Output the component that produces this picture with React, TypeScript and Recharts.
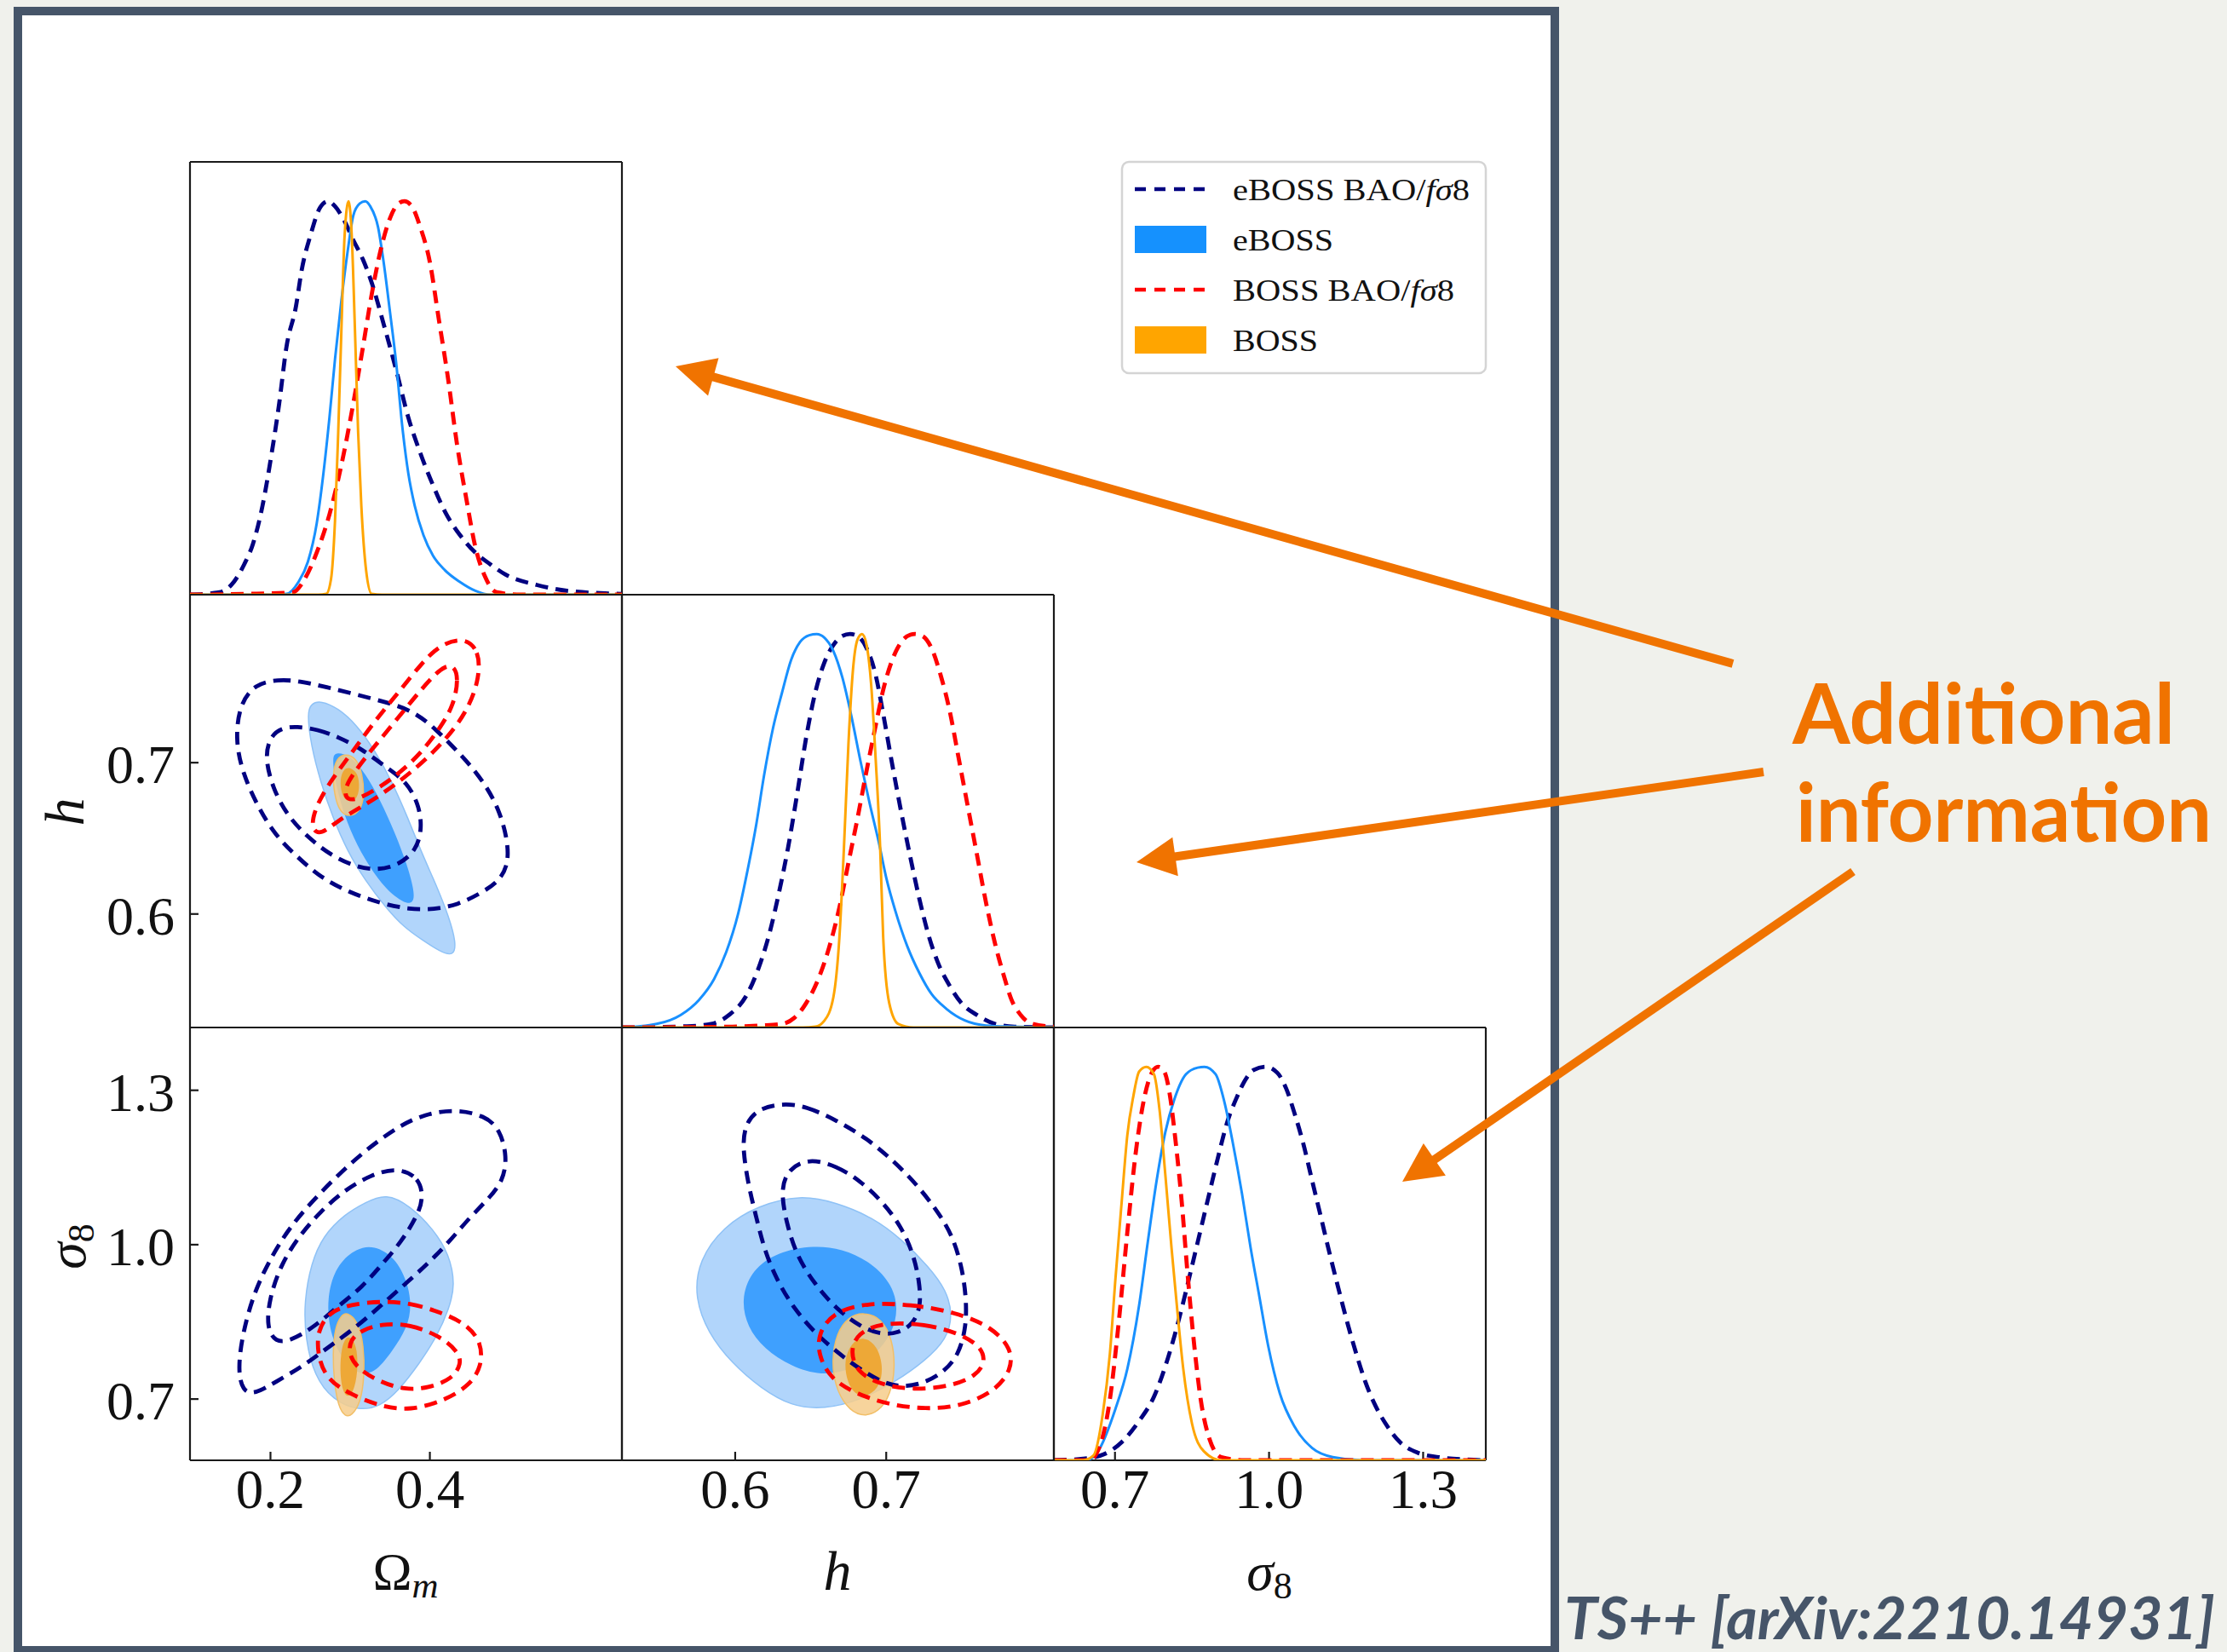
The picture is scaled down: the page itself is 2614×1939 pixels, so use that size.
import React from 'react';
import { ScatterChart, Scatter, XAxis, YAxis } from 'recharts';

const SERIF = '"Liberation Serif", "DejaVu Serif", serif';
const SANS = 'Lato, "Open Sans", sans-serif';
const NAVY = '#000080';
const RED = '#ff0000';
const BLUE = '#1890ff';
const ORANGE = '#ffa500';
const BLUE_OUT = '#b1d5fb';
const BLUE_IN = '#3fa0fe';
const SLATE = '#465569';
const ACCENT = '#f07300';

// panel grid (pixels)
const COL_X = [223, 730, 1237];
const ROW_Y = [190, 698, 1206];
const PW = 507;
const PH = 508;

// axis ranges and ticks
const omDomain = [0.099, 0.641];
const hDomain = [0.525, 0.811];
const s8Domain = [0.581, 1.422];
const pdfDomain = [0, 1.1];
const omTicks = [0.2, 0.4];
const hTicks = [0.6, 0.7];
const s8Ticks = [0.7, 1.0, 1.3];
const pdfTicks = [0.5];

// 1D marginals: [value, normalised density]
const omEbossBao1D = [[0.099,0],[0.136,0.006],[0.151,0.025],[0.167,0.077],[0.178,0.129],[0.19,0.226],[0.201,0.353],[0.211,0.487],[0.22,0.629],[0.232,0.733],[0.239,0.823],[0.251,0.919],[0.262,0.983],[0.272,1],[0.281,0.987],[0.293,0.949],[0.304,0.901],[0.316,0.852],[0.327,0.793],[0.342,0.688],[0.358,0.569],[0.373,0.45],[0.388,0.36],[0.404,0.278],[0.419,0.211],[0.438,0.151],[0.457,0.107],[0.476,0.077],[0.495,0.051],[0.534,0.025],[0.572,0.01],[0.641,0.002]];
const omEboss1D = [[0.099,0],[0.2,0],[0.22,0.002],[0.235,0.032],[0.247,0.084],[0.258,0.181],[0.266,0.301],[0.274,0.45],[0.281,0.599],[0.289,0.748],[0.297,0.875],[0.304,0.964],[0.312,0.994],[0.319,1],[0.325,0.988],[0.335,0.934],[0.342,0.845],[0.35,0.718],[0.358,0.584],[0.365,0.435],[0.373,0.308],[0.381,0.226],[0.392,0.151],[0.404,0.099],[0.419,0.062],[0.438,0.032],[0.457,0.01],[0.476,0],[0.641,0]];
const omBossBao1D = [[0.099,0],[0.17,0.002],[0.228,0.006],[0.243,0.04],[0.258,0.107],[0.274,0.204],[0.289,0.33],[0.304,0.487],[0.316,0.629],[0.327,0.763],[0.339,0.882],[0.35,0.957],[0.36,0.993],[0.368,1],[0.377,0.988],[0.388,0.934],[0.4,0.845],[0.411,0.703],[0.423,0.547],[0.434,0.383],[0.446,0.241],[0.457,0.122],[0.469,0.047],[0.484,0.006],[0.514,0],[0.641,0]];
const omBoss1D = [[0.099,0],[0.26,0],[0.27,0.002],[0.276,0.04],[0.281,0.189],[0.285,0.412],[0.289,0.673],[0.293,0.912],[0.298,1],[0.302,0.912],[0.306,0.673],[0.31,0.412],[0.314,0.226],[0.32,0.062],[0.327,0.002],[0.34,0],[0.641,0]];

const hEbossBao1D = [[0.525,0],[0.568,0.003],[0.584,0.009],[0.596,0.032],[0.608,0.085],[0.615,0.146],[0.623,0.244],[0.629,0.343],[0.635,0.457],[0.641,0.593],[0.647,0.737],[0.653,0.851],[0.659,0.927],[0.665,0.972],[0.671,0.995],[0.676,1],[0.681,0.995],[0.687,0.964],[0.693,0.896],[0.698,0.797],[0.704,0.668],[0.71,0.546],[0.716,0.432],[0.722,0.326],[0.728,0.235],[0.734,0.167],[0.742,0.106],[0.75,0.061],[0.76,0.032],[0.772,0.009],[0.785,0.002],[0.811,0]];
const hEboss1D = [[0.525,0],[0.548,0.009],[0.564,0.032],[0.576,0.07],[0.586,0.123],[0.594,0.191],[0.602,0.29],[0.608,0.396],[0.614,0.517],[0.619,0.638],[0.625,0.76],[0.631,0.851],[0.637,0.934],[0.643,0.98],[0.649,0.997],[0.654,1],[0.659,0.991],[0.665,0.957],[0.671,0.889],[0.677,0.79],[0.683,0.676],[0.689,0.57],[0.695,0.472],[0.7,0.381],[0.706,0.297],[0.714,0.206],[0.722,0.138],[0.73,0.085],[0.74,0.047],[0.752,0.018],[0.766,0.005],[0.785,0.002],[0.811,0]];
const hBossBao1D = [[0.525,0],[0.598,0.002],[0.617,0.005],[0.631,0.009],[0.639,0.024],[0.647,0.062],[0.655,0.123],[0.663,0.214],[0.669,0.305],[0.675,0.419],[0.681,0.532],[0.687,0.653],[0.693,0.767],[0.698,0.858],[0.704,0.934],[0.71,0.98],[0.716,0.998],[0.719,1],[0.724,0.995],[0.73,0.964],[0.736,0.896],[0.742,0.805],[0.748,0.684],[0.754,0.562],[0.76,0.441],[0.766,0.319],[0.772,0.214],[0.778,0.13],[0.783,0.07],[0.789,0.032],[0.797,0.009],[0.811,0.002]];
const hBoss1D = [[0.525,0],[0.645,0],[0.653,0.002],[0.659,0.017],[0.665,0.077],[0.669,0.229],[0.672,0.456],[0.675,0.722],[0.678,0.91],[0.681,0.986],[0.684,1],[0.687,0.972],[0.69,0.873],[0.693,0.683],[0.696,0.456],[0.698,0.229],[0.702,0.062],[0.708,0.009],[0.718,0],[0.811,0]];

const s8EbossBao1D = [[0.581,0],[0.638,0.004],[0.678,0.015],[0.713,0.046],[0.747,0.1],[0.776,0.162],[0.798,0.239],[0.816,0.317],[0.833,0.402],[0.85,0.494],[0.867,0.587],[0.884,0.68],[0.901,0.772],[0.918,0.857],[0.936,0.919],[0.953,0.965],[0.97,0.992],[0.993,1],[1.016,0.985],[1.033,0.946],[1.05,0.88],[1.067,0.803],[1.084,0.71],[1.101,0.618],[1.118,0.525],[1.136,0.432],[1.153,0.347],[1.17,0.27],[1.187,0.201],[1.204,0.147],[1.227,0.093],[1.255,0.046],[1.29,0.019],[1.33,0.008],[1.381,0.002],[1.422,0]];
const s8Eboss1D = [[0.581,0],[0.644,0],[0.667,0.023],[0.701,0.131],[0.724,0.232],[0.747,0.394],[0.764,0.556],[0.781,0.71],[0.798,0.834],[0.816,0.919],[0.838,0.981],[0.861,0.998],[0.874,1],[0.896,0.981],[0.913,0.911],[0.93,0.803],[0.947,0.68],[0.964,0.541],[0.981,0.417],[0.998,0.293],[1.021,0.17],[1.05,0.085],[1.084,0.031],[1.124,0.008],[1.181,0],[1.422,0]];
const s8BossBao1D = [[0.581,0],[0.65,0],[0.673,0.046],[0.69,0.154],[0.707,0.347],[0.724,0.579],[0.741,0.788],[0.758,0.927],[0.773,0.988],[0.784,1],[0.796,0.988],[0.807,0.927],[0.818,0.811],[0.83,0.656],[0.841,0.479],[0.853,0.309],[0.867,0.154],[0.884,0.054],[0.907,0.008],[0.953,0],[1.422,0]];
const s8Boss1D = [[0.581,0],[0.638,0],[0.658,0.012],[0.676,0.116],[0.69,0.27],[0.701,0.463],[0.713,0.656],[0.724,0.826],[0.736,0.927],[0.747,0.988],[0.761,1],[0.776,0.981],[0.787,0.888],[0.798,0.726],[0.81,0.541],[0.821,0.386],[0.833,0.232],[0.85,0.093],[0.873,0.023],[0.907,0],[1.422,0]];

// 2D contours (Omega_m, h)
const omHNavyOuter = [[0.18,0.752],[0.21,0.755],[0.236,0.754],[0.27,0.75],[0.308,0.745],[0.345,0.74],[0.375,0.735],[0.402,0.725],[0.428,0.711],[0.45,0.699],[0.473,0.683],[0.488,0.667],[0.497,0.65],[0.499,0.634],[0.488,0.622],[0.465,0.614],[0.435,0.606],[0.405,0.603],[0.375,0.603],[0.338,0.607],[0.3,0.614],[0.263,0.624],[0.233,0.638],[0.206,0.652],[0.184,0.671],[0.165,0.693],[0.156,0.715],[0.161,0.738]];
const omHNavyInner = [[0.233,0.724],[0.259,0.722],[0.285,0.717],[0.315,0.709],[0.345,0.697],[0.372,0.687],[0.387,0.671],[0.39,0.656],[0.383,0.642],[0.36,0.632],[0.334,0.629],[0.308,0.631],[0.278,0.638],[0.248,0.65],[0.221,0.665],[0.203,0.683],[0.193,0.703],[0.199,0.717],[0.214,0.723]];
const omHRedOuter = [[0.443,0.783],[0.462,0.774],[0.462,0.756],[0.45,0.738],[0.432,0.723],[0.405,0.707],[0.375,0.693],[0.345,0.681],[0.315,0.671],[0.285,0.662],[0.263,0.652],[0.251,0.656],[0.255,0.669],[0.274,0.687],[0.3,0.705],[0.33,0.727],[0.36,0.746],[0.39,0.766],[0.413,0.778]];
const omHRedInner = [[0.43,0.764],[0.436,0.756],[0.43,0.738],[0.413,0.723],[0.39,0.707],[0.364,0.694],[0.338,0.684],[0.311,0.676],[0.296,0.675],[0.292,0.682],[0.304,0.693],[0.326,0.708],[0.353,0.725],[0.379,0.742],[0.405,0.758],[0.42,0.764]];
const omHBlueOuter = [[0.263,0.741],[0.285,0.736],[0.308,0.725],[0.33,0.709],[0.353,0.687],[0.372,0.664],[0.39,0.64],[0.409,0.618],[0.424,0.598],[0.433,0.581],[0.43,0.572],[0.413,0.575],[0.39,0.583],[0.368,0.591],[0.345,0.604],[0.319,0.622],[0.296,0.642],[0.278,0.664],[0.263,0.687],[0.251,0.711],[0.246,0.733],[0.251,0.739]];
const omHBlueInner = [[0.281,0.707],[0.3,0.705],[0.319,0.693],[0.338,0.675],[0.356,0.654],[0.372,0.632],[0.381,0.614],[0.379,0.607],[0.368,0.607],[0.345,0.616],[0.323,0.632],[0.304,0.65],[0.289,0.671],[0.28,0.691],[0.278,0.703]];
const omHOrangeOuter = [[0.294,0.706],[0.308,0.703],[0.315,0.693],[0.318,0.679],[0.313,0.668],[0.3,0.664],[0.287,0.667],[0.28,0.679],[0.278,0.693],[0.283,0.703]];
const omHOrangeInner = [[0.3,0.697],[0.31,0.693],[0.312,0.683],[0.308,0.675],[0.296,0.674],[0.289,0.679],[0.287,0.689],[0.292,0.696]];

// 2D contours (Omega_m, sigma_8)
const omS8NavyOuter = [[0.432,1.263],[0.469,1.251],[0.488,1.224],[0.497,1.171],[0.492,1.124],[0.473,1.088],[0.45,1.053],[0.424,1.005],[0.398,0.964],[0.368,0.922],[0.338,0.881],[0.308,0.84],[0.27,0.798],[0.24,0.763],[0.206,0.733],[0.18,0.709],[0.165,0.715],[0.159,0.757],[0.165,0.828],[0.18,0.911],[0.203,0.982],[0.225,1.035],[0.251,1.082],[0.285,1.136],[0.319,1.183],[0.36,1.23],[0.394,1.254]];
const omS8NavyInner = [[0.36,1.15],[0.387,1.13],[0.392,1.088],[0.383,1.053],[0.364,1.005],[0.341,0.964],[0.315,0.917],[0.285,0.881],[0.255,0.84],[0.225,0.813],[0.206,0.81],[0.195,0.84],[0.199,0.899],[0.214,0.964],[0.236,1.017],[0.263,1.065],[0.293,1.106],[0.326,1.136]];
const omS8BlueOuter = [[0.345,1.1],[0.375,1.076],[0.405,1.029],[0.424,0.982],[0.432,0.922],[0.424,0.875],[0.409,0.822],[0.387,0.769],[0.36,0.715],[0.338,0.686],[0.311,0.677],[0.278,0.698],[0.255,0.745],[0.244,0.816],[0.242,0.887],[0.251,0.964],[0.266,1.017],[0.293,1.059],[0.319,1.082]];
const omS8BlueInner = [[0.33,0.999],[0.356,0.976],[0.372,0.928],[0.377,0.881],[0.372,0.84],[0.353,0.793],[0.33,0.748],[0.308,0.748],[0.285,0.787],[0.272,0.846],[0.272,0.911],[0.285,0.964],[0.308,0.993]];
const omS8RedOuter = [[0.338,0.89],[0.375,0.887],[0.413,0.869],[0.446,0.846],[0.465,0.81],[0.465,0.763],[0.45,0.727],[0.42,0.698],[0.375,0.677],[0.338,0.686],[0.3,0.709],[0.27,0.739],[0.259,0.786],[0.259,0.834],[0.274,0.869],[0.3,0.884]];
const omS8RedInner = [[0.338,0.846],[0.375,0.846],[0.413,0.822],[0.435,0.793],[0.44,0.769],[0.428,0.739],[0.398,0.721],[0.368,0.718],[0.338,0.733],[0.311,0.757],[0.298,0.786],[0.3,0.816],[0.315,0.834]];
const omS8OrangeOuter = [[0.296,0.869],[0.31,0.851],[0.317,0.804],[0.318,0.745],[0.313,0.692],[0.302,0.668],[0.294,0.665],[0.285,0.686],[0.28,0.733],[0.278,0.786],[0.281,0.84],[0.289,0.863]];
const omS8OrangeInner = [[0.3,0.822],[0.308,0.804],[0.31,0.763],[0.306,0.721],[0.298,0.701],[0.29,0.715],[0.287,0.757],[0.289,0.798],[0.294,0.819]];

// 2D contours (h, sigma_8)
const hS8NavyOuter = [[0.631,1.275],[0.647,1.269],[0.667,1.242],[0.687,1.207],[0.704,1.165],[0.72,1.118],[0.734,1.065],[0.744,1.017],[0.75,0.958],[0.753,0.899],[0.753,0.84],[0.748,0.786],[0.738,0.751],[0.722,0.727],[0.708,0.724],[0.697,0.733],[0.683,0.757],[0.667,0.792],[0.653,0.828],[0.639,0.875],[0.627,0.934],[0.619,0.993],[0.614,1.053],[0.609,1.112],[0.605,1.183],[0.606,1.23],[0.614,1.263]];
const hS8NavyInner = [[0.649,1.168],[0.667,1.153],[0.683,1.124],[0.698,1.082],[0.71,1.035],[0.718,0.982],[0.722,0.928],[0.723,0.881],[0.718,0.846],[0.708,0.828],[0.697,0.825],[0.683,0.84],[0.667,0.875],[0.653,0.922],[0.641,0.976],[0.634,1.041],[0.63,1.106],[0.635,1.147]];
const hS8BlueOuter = [[0.643,1.097],[0.667,1.082],[0.691,1.053],[0.71,1.011],[0.728,0.958],[0.74,0.911],[0.744,0.863],[0.74,0.816],[0.726,0.775],[0.706,0.733],[0.683,0.698],[0.659,0.68],[0.637,0.686],[0.617,0.721],[0.598,0.769],[0.582,0.828],[0.573,0.899],[0.576,0.97],[0.592,1.035],[0.615,1.076]];
const hS8BlueInner = [[0.649,0.999],[0.671,0.993],[0.691,0.964],[0.704,0.922],[0.708,0.875],[0.704,0.828],[0.693,0.786],[0.677,0.757],[0.657,0.745],[0.637,0.763],[0.619,0.798],[0.608,0.84],[0.604,0.893],[0.61,0.946],[0.625,0.982]];
const hS8RedOuter = [[0.687,0.887],[0.716,0.884],[0.746,0.869],[0.77,0.84],[0.783,0.798],[0.783,0.757],[0.772,0.715],[0.75,0.686],[0.726,0.68],[0.702,0.689],[0.681,0.709],[0.663,0.739],[0.655,0.786],[0.655,0.828],[0.665,0.869]];
const hS8RedInner = [[0.697,0.849],[0.726,0.846],[0.748,0.828],[0.762,0.804],[0.766,0.775],[0.76,0.745],[0.742,0.724],[0.718,0.718],[0.697,0.727],[0.681,0.751],[0.676,0.792],[0.681,0.828]];
const hS8OrangeOuter = [[0.685,0.869],[0.697,0.857],[0.704,0.816],[0.706,0.763],[0.703,0.709],[0.695,0.674],[0.683,0.665],[0.673,0.686],[0.666,0.727],[0.664,0.775],[0.667,0.828],[0.675,0.86]];
const hS8OrangeInner = [[0.685,0.822],[0.694,0.804],[0.698,0.763],[0.696,0.727],[0.689,0.706],[0.68,0.706],[0.674,0.733],[0.672,0.775],[0.677,0.81]];

const legendItems = [
  { label: 'eBOSS BAO/', tail: 'fσ', end: '8', color: NAVY, kind: 'dash', width: 278 },
  { label: 'eBOSS', tail: '', end: '', color: '#1591fe', kind: 'box', width: 118 },
  { label: 'BOSS BAO/', tail: 'fσ', end: '8', color: RED, kind: 'dash', width: 260 },
  { label: 'BOSS', tail: '', end: '', color: ORANGE, kind: 'box', width: 100 },
];

const pts = (arr: number[][]) => arr.map(([x, y]) => ({ x, y }));
const NoDot = () => <g />;
const DASH = '15 9';
const DASH_W = 4.8;

const fillShape = (key: string, data: number[][], fill: string, stroke: string, opacity = 1) => (
  <Scatter key={key} xAxisId="b" yAxisId="l" data={pts(data)} shape={NoDot} isAnimationActive={false}
    line={{ fill, fillOpacity: opacity, stroke, strokeWidth: 1.5 }} lineJointType="basisClosed" />
);

const dashShape = (key: string, data: number[][], stroke: string) => (
  <Scatter key={key} xAxisId="t" yAxisId="r" data={pts(data)} shape={NoDot} isAnimationActive={false}
    line={{ fill: 'none', stroke, strokeWidth: DASH_W, strokeDasharray: DASH }} lineJointType="basisClosed" />
);

const curve = (key: string, data: number[][], stroke: string, dashed: boolean, top: boolean) => (
  <Scatter key={key} xAxisId={top ? 't' : 'b'} yAxisId={top ? 'r' : 'l'} data={pts(data)} shape={NoDot}
    isAnimationActive={false}
    line={dashed ? { fill: 'none', stroke, strokeWidth: DASH_W, strokeDasharray: DASH } : { fill: 'none', stroke, strokeWidth: 3 }}
    lineJointType="monotone" />
);

const AX = { stroke: '#1a1a1a', strokeWidth: 2.2 };

function Panel({ row, col, xDomain, yDomain, xTicks, yTicks, diag, children }: any) {
  const wl = col === 0 && !diag ? 150 : 14;
  const hb = row === 2 ? 90 : 14;
  const plotBottom = 14 + PH;
  const xLabel = row === 2
    ? (p: any) => (
        <text x={p.x} y={plotBottom + 56} textAnchor="middle" fontFamily={SERIF} fontSize={65} fill="#111">
          {Number(p.payload.value).toFixed(1)}
        </text>
      )
    : false;
  const yLabel = col === 0 && !diag
    ? (p: any) => (
        <text x={wl - 18} y={p.y + 24} textAnchor="end" fontFamily={SERIF} fontSize={64} fill="#111">
          {Number(p.payload.value).toFixed(1)}
        </text>
      )
    : false;
  const sideTick = diag ? false : AX;
  return (
    <div style={{ position: 'absolute', left: COL_X[col] - wl, top: ROW_Y[row] - 14 }}>
      <ScatterChart width={wl + PW + 14} height={14 + PH + hb} margin={{ top: 0, right: 0, bottom: 0, left: 0 }}>
        <XAxis xAxisId="b" type="number" dataKey="x" orientation="bottom" domain={xDomain} ticks={xTicks}
          allowDataOverflow interval={0} height={hb} tickSize={-10} tickMargin={0} axisLine={AX} tickLine={AX} tick={xLabel} />
        <XAxis xAxisId="t" type="number" dataKey="x" orientation="top" domain={xDomain} ticks={xTicks}
          allowDataOverflow interval={0} height={14} tickSize={-10} tickMargin={0} axisLine={AX} tickLine={sideTick} tick={false} />
        <YAxis yAxisId="l" type="number" dataKey="y" orientation="left" domain={yDomain} ticks={yTicks}
          allowDataOverflow interval={0} width={wl} tickSize={-10} tickMargin={0} axisLine={AX} tickLine={sideTick} tick={yLabel} />
        <YAxis yAxisId="r" type="number" dataKey="y" orientation="right" domain={yDomain} ticks={yTicks}
          allowDataOverflow interval={0} width={14} tickSize={-10} tickMargin={0} axisLine={AX} tickLine={sideTick} tick={false} />
        {children}
      </ScatterChart>
    </div>
  );
}

const twoD = (prefix: string, d: Record<string, number[][]>) => [
  fillShape(prefix + 'bo', d.blueOuter, BLUE_OUT, '#8fc2f6'),
  fillShape(prefix + 'bi', d.blueInner, BLUE_IN, 'none'),
  fillShape(prefix + 'oo', d.orangeOuter, '#f6cd8c', '#f2bf68', 0.86),
  fillShape(prefix + 'oi', d.orangeInner, '#eea42c', 'none', 0.9),
  dashShape(prefix + 'no', d.navyOuter, NAVY),
  dashShape(prefix + 'ni', d.navyInner, NAVY),
  dashShape(prefix + 'ro', d.redOuter, RED),
  dashShape(prefix + 'ri', d.redInner, RED),
];

function Arrow({ from, to }: { from: number[]; to: number[] }) {
  const [x0, y0] = from;
  const [x1, y1] = to;
  const len = Math.hypot(x1 - x0, y1 - y0);
  const ux = (x1 - x0) / len;
  const uy = (y1 - y0) / len;
  const hl = 46;
  const hw = 23;
  const bx = x1 - ux * hl;
  const by = y1 - uy * hl;
  return (
    <g>
      <line x1={x0} y1={y0} x2={bx + ux * 4} y2={by + uy * 4} stroke={ACCENT} strokeWidth={10} />
      <polygon points={`${x1},${y1} ${bx - uy * hw},${by + ux * hw} ${bx + uy * hw},${by - ux * hw}`} fill={ACCENT} />
    </g>
  );
}

export default function App() {
  return (
    <div style={{ position: 'absolute', left: 0, top: 0, width: 2614, height: 1939, overflow: 'hidden', background: '#f0f1ec' }}>
      <div style={{ position: 'absolute', left: 16, top: 8, width: 1814, height: 1934, boxSizing: 'border-box', border: `10.5px solid ${SLATE}`, background: '#fff' }} />

      <Panel row={0} col={0} diag xDomain={omDomain} yDomain={pdfDomain} xTicks={omTicks} yTicks={pdfTicks}>
        {[curve('a1', omEbossBao1D, NAVY, true, true), curve('a2', omEboss1D, BLUE, false, true),
          curve('a3', omBossBao1D, RED, true, false), curve('a4', omBoss1D, ORANGE, false, false)]}
      </Panel>
      <Panel row={1} col={1} diag xDomain={hDomain} yDomain={pdfDomain} xTicks={hTicks} yTicks={pdfTicks}>
        {[curve('b1', hEbossBao1D, NAVY, true, true), curve('b2', hEboss1D, BLUE, false, true),
          curve('b3', hBossBao1D, RED, true, false), curve('b4', hBoss1D, ORANGE, false, false)]}
      </Panel>
      <Panel row={2} col={2} diag xDomain={s8Domain} yDomain={pdfDomain} xTicks={s8Ticks} yTicks={pdfTicks}>
        {[curve('c1', s8EbossBao1D, NAVY, true, true), curve('c2', s8Eboss1D, BLUE, false, true),
          curve('c3', s8BossBao1D, RED, true, false), curve('c4', s8Boss1D, ORANGE, false, false)]}
      </Panel>
      <Panel row={1} col={0} xDomain={omDomain} yDomain={hDomain} xTicks={omTicks} yTicks={hTicks}>
        {twoD('oh', { blueOuter: omHBlueOuter, blueInner: omHBlueInner, orangeOuter: omHOrangeOuter, orangeInner: omHOrangeInner,
          navyOuter: omHNavyOuter, navyInner: omHNavyInner, redOuter: omHRedOuter, redInner: omHRedInner })}
      </Panel>
      <Panel row={2} col={0} xDomain={omDomain} yDomain={s8Domain} xTicks={omTicks} yTicks={s8Ticks}>
        {twoD('os', { blueOuter: omS8BlueOuter, blueInner: omS8BlueInner, orangeOuter: omS8OrangeOuter, orangeInner: omS8OrangeInner,
          navyOuter: omS8NavyOuter, navyInner: omS8NavyInner, redOuter: omS8RedOuter, redInner: omS8RedInner })}
      </Panel>
      <Panel row={2} col={1} xDomain={hDomain} yDomain={s8Domain} xTicks={hTicks} yTicks={s8Ticks}>
        {twoD('hs', { blueOuter: hS8BlueOuter, blueInner: hS8BlueInner, orangeOuter: hS8OrangeOuter, orangeInner: hS8OrangeInner,
          navyOuter: hS8NavyOuter, navyInner: hS8NavyInner, redOuter: hS8RedOuter, redInner: hS8RedInner })}
      </Panel>

      <svg width={2614} height={1939} style={{ position: 'absolute', left: 0, top: 0, pointerEvents: 'none' }}>
        {/* axis titles */}
        <g fontFamily={SERIF} fill="#111">
          <text x={476} y={1865} textAnchor="middle" fontSize={62}>
            Ω<tspan fontStyle="italic" fontSize={43} dy={10}>m</tspan>
          </text>
          <text x={983} y={1866} textAnchor="middle" fontSize={66} fontStyle="italic">h</text>
          <text x={1490} y={1866} textAnchor="middle" fontSize={64}>
            <tspan fontStyle="italic">σ</tspan><tspan fontSize={44} dy={10}>8</tspan>
          </text>
          <text transform="translate(98,953) rotate(-90)" textAnchor="middle" fontSize={66} fontStyle="italic">h</text>
          <text transform="translate(100,1463) rotate(-90)" textAnchor="middle" fontSize={64}>
            <tspan fontStyle="italic">σ</tspan><tspan fontSize={44} dy={10}>8</tspan>
          </text>
        </g>

        {/* legend */}
        <rect x={1317} y={190} width={427} height={248} rx={8} fill="#fff" stroke="#d4d4d4" strokeWidth={2.5} />
        {legendItems.map((it, i) => {
          const cy = 222 + i * 59;
          return (
            <g key={it.label}>
              {it.kind === 'dash'
                ? <line x1={1332} x2={1415} y1={cy} y2={cy} stroke={it.color} strokeWidth={4.5} strokeDasharray="13 10" />
                : <rect x={1332} y={cy - 16} width={84} height={32} fill={it.color} />}
              <text x={1447} y={cy + 13} fontFamily={SERIF} fontSize={36} fill="#111" textLength={it.width} lengthAdjust="spacingAndGlyphs">
                {it.label}{it.tail ? <tspan fontStyle="italic">{it.tail}</tspan> : null}{it.end}
              </text>
            </g>
          );
        })}

        {/* annotation */}
        <Arrow from={[2034, 779]} to={[793, 430]} />
        <Arrow from={[2070, 906]} to={[1334, 1012]} />
        <Arrow from={[2175, 1023]} to={[1646, 1387]} />
        <text x={2104} y={873} fontFamily={SANS} fontWeight={700} fontSize={98} fill={ACCENT} textLength={449} lengthAdjust="spacingAndGlyphs">Additional</text>
        <text x={2108} y={988} fontFamily={SANS} fontWeight={700} fontSize={96} fill={ACCENT} textLength={488} lengthAdjust="spacingAndGlyphs">information</text>
        <text x={1836} y={1924} fontFamily={SANS} fontStyle="italic" fontWeight={700} fontSize={68} fill={SLATE} textLength={764} lengthAdjust="spacingAndGlyphs">TS++ [arXiv:2210.14931]</text>
      </svg>
    </div>
  );
}
